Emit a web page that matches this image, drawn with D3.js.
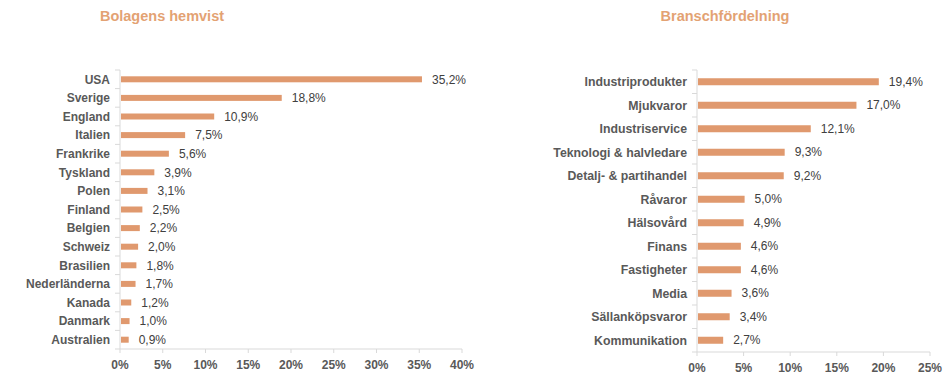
<!DOCTYPE html>
<html>
<head>
<meta charset="utf-8">
<script src="https://cdn.jsdelivr.net/npm/d3@7"></script>
<style>
  body { margin: 0; background: #fff; }
  svg text { font-family: "Liberation Sans", Arial, sans-serif; }
</style>
</head>
<body>
<div id="chart"></div>
<script>
// bolagens hemvist
const countries = ["USA", "Sverige", "England", "Italien", "Frankrike", "Tyskland", "Polen", "Finland",
  "Belgien", "Schweiz", "Brasilien", "Nederländerna", "Kanada", "Danmark", "Australien"];
const countryValues = [35.2, 18.8, 10.9, 7.5, 5.6, 3.9, 3.1, 2.5, 2.2, 2.0, 1.8, 1.7, 1.2, 1.0, 0.9];
const countryTicks = [0, 5, 10, 15, 20, 25, 30, 35, 40];

// branschfördelning
const sectors = ["Industriprodukter", "Mjukvaror", "Industriservice", "Teknologi & halvledare",
  "Detalj- & partihandel", "Råvaror", "Hälsovård", "Finans", "Fastigheter", "Media",
  "Sällanköpsvaror", "Kommunikation"];
const sectorValues = [19.4, 17.0, 12.1, 9.3, 9.2, 5.0, 4.9, 4.6, 4.6, 3.6, 3.4, 2.7];
const sectorTicks = [0, 5, 10, 15, 20, 25];

const width = 950;
const height = 377;
const barColor = "#E0996E";
const titleColor = "#E3A273";

const svg = d3.select("#chart").append("svg")
  .attr("width", width)
  .attr("height", height);

const fmt = v => d3.format(".1f")(v).replace(".", ",") + "%";

function drawChart(opts) {
  const data = opts.cats.map((c, i) => ({ cat: c, val: opts.vals[i] }));
  const g = svg.append("g");

  const x = d3.scaleLinear().domain([0, d3.max(opts.ticks)]).range([opts.x0, opts.x1]);
  const y = d3.scaleBand().domain(opts.cats).range([opts.y0, opts.y1]);

  g.append("text")
    .attr("x", opts.titleX)
    .attr("y", 21)
    .attr("text-anchor", "middle")
    .attr("font-size", 14.5)
    .attr("font-weight", "bold")
    .attr("fill", titleColor)
    .text(opts.title);

  // y axis line + ticks at band edges
  g.append("line")
    .attr("x1", opts.x0).attr("x2", opts.x0)
    .attr("y1", opts.y0).attr("y2", opts.y1)
    .attr("stroke", "#D9D9D9");
  g.selectAll(".ytick")
    .data(d3.range(opts.cats.length + 1))
    .enter().append("line")
    .attr("x1", opts.x0 - 5).attr("x2", opts.x0)
    .attr("y1", i => opts.y0 + i * y.step())
    .attr("y2", i => opts.y0 + i * y.step())
    .attr("stroke", "#D9D9D9");

  // x axis line + ticks
  g.append("line")
    .attr("x1", opts.x0).attr("x2", opts.x1)
    .attr("y1", opts.y1).attr("y2", opts.y1)
    .attr("stroke", "#D9D9D9");
  g.selectAll(".xtick")
    .data(opts.ticks)
    .enter().append("line")
    .attr("x1", d => x(d)).attr("x2", d => x(d))
    .attr("y1", opts.y1).attr("y2", opts.y1 + 4)
    .attr("stroke", "#D9D9D9");
  g.selectAll(".xlabel")
    .data(opts.ticks)
    .enter().append("text")
    .attr("x", d => x(d))
    .attr("y", opts.y1 + 20)
    .attr("text-anchor", "middle")
    .attr("font-size", 12)
    .attr("font-weight", "bold")
    .attr("fill", "#595959")
    .text(d => d + "%");

  // category labels
  g.selectAll(".cat")
    .data(data)
    .enter().append("text")
    .attr("x", opts.x0 - 10)
    .attr("y", d => y(d.cat) + y.bandwidth() / 2)
    .attr("dy", "0.35em")
    .attr("text-anchor", "end")
    .attr("font-size", opts.catSize)
    .attr("font-weight", "bold")
    .attr("fill", "#595959")
    .text(d => d.cat);

  g.selectAll(".bar")
    .data(data)
    .enter().append("rect")
    .attr("x", opts.x0 + 1)
    .attr("y", d => y(d.cat) + y.bandwidth() / 2 - opts.barH / 2)
    .attr("width", d => x(d.val) - opts.x0)
    .attr("height", opts.barH)
    .attr("fill", barColor);

  g.selectAll(".val")
    .data(data)
    .enter().append("text")
    .attr("x", d => x(d.val) + 11)
    .attr("y", d => y(d.cat) + y.bandwidth() / 2)
    .attr("dy", "0.35em")
    .attr("font-size", 12)
    .attr("fill", "#404040")
    .text(d => fmt(d.val));
}

drawChart({
  title: "Bolagens hemvist", titleX: 162, catSize: 12,
  cats: countries, vals: countryValues, ticks: countryTicks,
  x0: 120, x1: 462, y0: 70, y1: 349, barH: 6
});

drawChart({
  title: "Branschfördelning", titleX: 725, catSize: 12.3,
  cats: sectors, vals: sectorValues, ticks: sectorTicks,
  x0: 697, x1: 930, y0: 70, y1: 352, barH: 7
});
</script>
</body>
</html>
